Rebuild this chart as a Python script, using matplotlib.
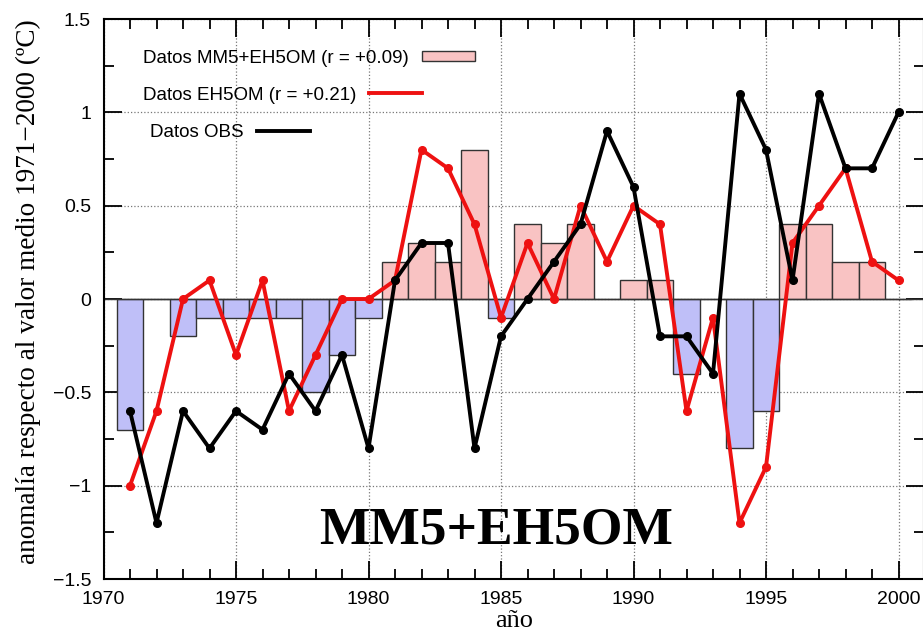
import numpy as np
import matplotlib
matplotlib.use('Agg')
import matplotlib.pyplot as plt
from matplotlib.patches import Rectangle
from matplotlib.lines import Line2D

# Jahre und Anomalien (gegenueber Mittel 1971-2000)
years = np.arange(1971, 2001)

mm5_eh5om = [-0.7, 0.0, -0.2, -0.1, -0.1, -0.1, -0.1, -0.5, -0.3, -0.1,
             0.2, 0.3, 0.2, 0.8, -0.1, 0.4, 0.3, 0.4, 0.0, 0.1,
             0.1, -0.4, 0.0, -0.8, -0.6, 0.4, 0.4, 0.2, 0.2, 0.0]

eh5om = [-1.0, -0.6, 0.0, 0.1, -0.3, 0.1, -0.6, -0.3, 0.0, 0.0,
         0.1, 0.8, 0.7, 0.4, -0.1, 0.3, 0.0, 0.5, 0.2, 0.5,
         0.4, -0.6, -0.1, -1.2, -0.9, 0.3, 0.5, 0.7, 0.2, 0.1]

obs = [-0.6, -1.2, -0.6, -0.8, -0.6, -0.7, -0.4, -0.6, -0.3, -0.8,
       0.1, 0.3, 0.3, -0.8, -0.2, 0.0, 0.2, 0.4, 0.9, 0.6,
       -0.2, -0.2, -0.4, 1.1, 0.8, 0.1, 1.1, 0.7, 0.7, 1.0]

legend_labels = ['Datos MM5+EH5OM (r = +0.09)', 'Datos EH5OM (r = +0.21)', 'Datos OBS']

sans = 'Liberation Sans'
serif = 'Liberation Serif'

fig = plt.figure(figsize=(9.23, 6.35), dpi=100)
ax = fig.add_axes([103.5 / 923, 56 / 635, (924 - 103.5) / 923, 560 / 635])

# Balken: rosa fuer positive, blau fuer negative Werte
bar_vals = np.array(mm5_eh5om)
bar_colors = ['#f9c3c3' if v >= 0 else '#bfbff8' for v in bar_vals]
ax.bar(years, bar_vals, width=1.0, color=bar_colors, edgecolor='#333333',
       linewidth=1.0, zorder=2)

ax.axhline(0, color='#333333', linewidth=1.0, zorder=2.5)

ax.plot(years, eh5om, color='#ee1111', linewidth=2.8, marker='o',
        markersize=5.5, zorder=3)
ax.plot(years, obs, color='black', linewidth=2.8, marker='o',
        markersize=5.5, zorder=4)

ax.set_xlim(1970, 1970 + (924 - 103.5) / 26.5)
ax.set_ylim(-1.5, 1.5)
ax.set_xticks(np.arange(1970, 2001, 5))
ax.set_xticks(np.arange(1970, 2001, 1), minor=True)
ax.set_yticks([-1.5, -1, -0.5, 0, 0.5, 1, 1.5])
ax.set_yticklabels(['\u22121.5', '\u22121', '\u22120.5', '0', '0.5', '1', '1.5'])
ax.set_yticks(np.arange(-1.5, 1.51, 0.25), minor=True)

ax.tick_params(which='both', direction='in', top=True, right=True, width=1.3)
ax.tick_params(which='major', length=13, labelsize=14, pad=9)
ax.tick_params(which='minor', length=7)
for lab in ax.get_xticklabels() + ax.get_yticklabels():
    lab.set_fontfamily(sans)

ax.grid(True, which='major', linestyle=':', color='#777777', linewidth=0.9, zorder=0)
ax.set_axisbelow(True)
for sp in ax.spines.values():
    sp.set_linewidth(1.5)

ax.set_ylabel('anomalía respecto al valor medio 1971\u22122000 (ºC)',
              fontfamily=serif, fontsize=19.6)
ax.yaxis.set_label_coords(-0.076, 0.5125)
ax.set_xlabel('año', fontfamily=serif, fontsize=19)
ax.xaxis.set_label_coords(0.5, -0.056)

ax.text(0.478, 0.064, 'MM5+EH5OM', transform=ax.transAxes, ha='center',
        va='baseline', fontfamily=serif, fontweight='bold', fontsize=38.5, zorder=5)

# Legende im gnuplot-Stil: Text, dahinter das Symbol
text_pos = [(0.0481, 0.9214), (0.0481, 0.8554), (0.0567, 0.7893)]
key_y = [(579 - 56) / 560, (579 - 93) / 560, (579 - 131) / 560]
texts = []
for lab, (tx, ty) in zip(legend_labels, text_pos):
    texts.append(ax.text(tx, ty, lab, transform=ax.transAxes, ha='left',
                         va='baseline', fontfamily=sans, fontsize=13.5, zorder=6))

fig.canvas.draw()
renderer = fig.canvas.get_renderer()
inv = ax.transAxes.inverted()
px_x = 1.0 / ax.get_window_extent().width
px_y = 1.0 / ax.get_window_extent().height
for i, t in enumerate(texts):
    bb = t.get_window_extent(renderer)
    x0 = inv.transform((bb.x1, bb.y0))[0] + 13 * px_x
    x1 = x0 + 53 * px_x
    if i == 0:
        ax.add_patch(Rectangle((x0, key_y[i] - 5 * px_y), 53 * px_x, 10 * px_y,
                               transform=ax.transAxes, facecolor='#f9c3c3',
                               edgecolor='#333333', linewidth=1.0, zorder=6))
    else:
        col = '#ee1111' if i == 1 else 'black'
        ax.add_line(Line2D([x0, x1], [key_y[i], key_y[i]], transform=ax.transAxes,
                           color=col, linewidth=2.8, zorder=6))

fig.savefig('out.png', dpi=100)
